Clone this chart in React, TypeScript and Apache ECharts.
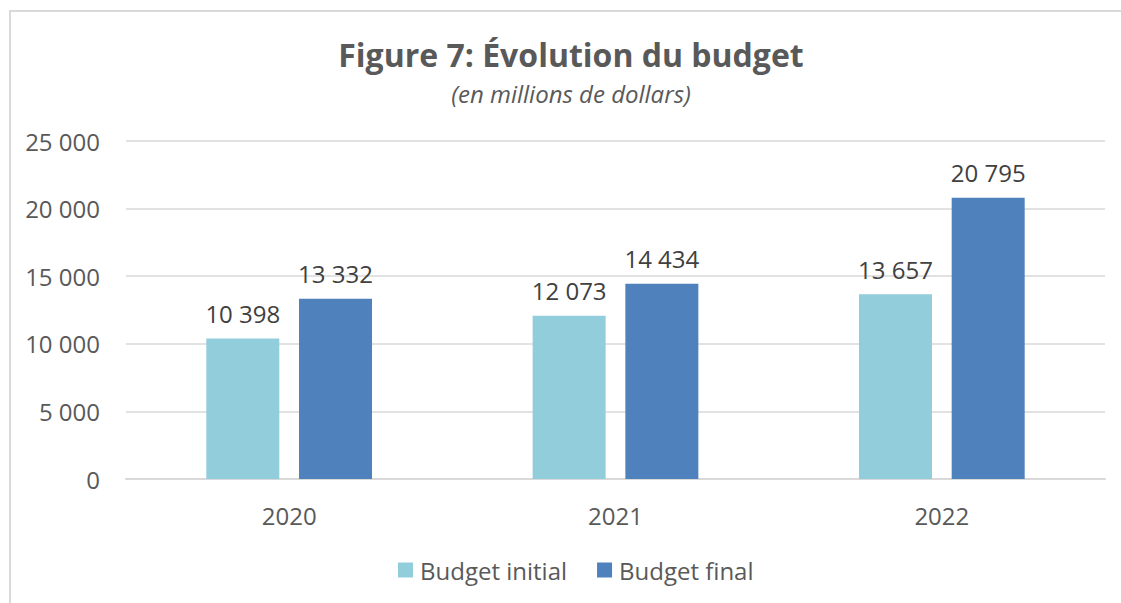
import React, { useEffect, useRef } from "react";
import * as echarts from "echarts";

const categories = ["2020", "2021", "2022"];
const budgetInitial = [10398, 12073, 13657];
const budgetFinal = [13332, 14434, 20795];
const seriesNames = ["Budget initial", "Budget final"];

const fmt = (v: number) => String(Math.round(v)).replace(/\B(?=(\d{3})+(?!\d))/g, " ");

export default function App() {
  const ref = useRef<HTMLDivElement>(null);
  useEffect(() => {
    const chart = echarts.init(ref.current!, null, { renderer: "svg" });
    const font = "'Open Sans', 'Noto Sans', sans-serif";
    const labelStyle = {
      show: true,
      position: "top",
      distance: 13,
      fontFamily: font,
      fontSize: 24,
      color: "#404040",
      formatter: (p: any) => fmt(p.value),
    };
    chart.setOption({
      animation: false,
      textStyle: { fontFamily: font },
      title: {
        text: "Figure 7: Évolution du budget",
        subtext: "(en millions de dollars)",
        left: 558,
        textAlign: "center",
        top: 22,
        itemGap: 11,
        textStyle: { fontFamily: font, fontSize: 32, fontWeight: "bold", color: "#595959" },
        subtextStyle: { fontFamily: font, fontSize: 24, fontStyle: "italic", color: "#595959" },
      },
      legend: {
        data: seriesNames,
        bottom: 16,
        left: 385,
        itemWidth: 15,
        itemHeight: 15,
        itemGap: 30,
        icon: "rect",
        textStyle: { fontFamily: font, fontSize: 24, color: "#595959", padding: [0, 0, 0, 2] },
      },
      grid: { left: 118, right: 103, top: 130, bottom: 124, containLabel: false },
      xAxis: {
        type: "category",
        data: categories,
        axisLine: { lineStyle: { color: "#d9d9d9", width: 2 } },
        axisTick: { show: false },
        axisLabel: { fontFamily: font, fontSize: 24, color: "#595959", margin: 24 },
      },
      yAxis: {
        type: "value",
        min: 0,
        max: 25000,
        interval: 5000,
        axisLine: { show: false },
        axisTick: { show: false },
        splitLine: { lineStyle: { color: "#d9d9d9", width: 1.5 } },
        axisLabel: {
          fontFamily: font,
          fontSize: 24,
          color: "#595959",
          margin: 26,
          formatter: (v: number) => fmt(v),
        },
      },
      series: [
        {
          name: seriesNames[0],
          type: "bar",
          data: budgetInitial,
          barWidth: 73,
          barGap: "27%",
          itemStyle: { color: "#92CDDC" },
          label: labelStyle,
        },
        {
          name: seriesNames[1],
          type: "bar",
          data: budgetFinal,
          barWidth: 73,
          barGap: "27%",
          itemStyle: { color: "#4F81BD" },
          label: labelStyle,
        },
      ],
    });
    return () => chart.dispose();
  }, []);
  return (
    <div
      style={{
        width: 1113,
        height: 595,
        overflow: "hidden",
        position: "absolute",
        left: 8,
        top: 8,
      }}
    >
      <div
        style={{
          position: "absolute",
          left: 1,
          top: 2,
          width: 1300,
          height: 800,
          borderTop: "2px solid #d9d9d9",
          borderLeft: "2px solid #d9d9d9",
          boxSizing: "border-box",
        }}
      />
      <div ref={ref} style={{ position: "absolute", left: 0, top: 3, width: 1200, height: 592 }} />
    </div>
  );
}
